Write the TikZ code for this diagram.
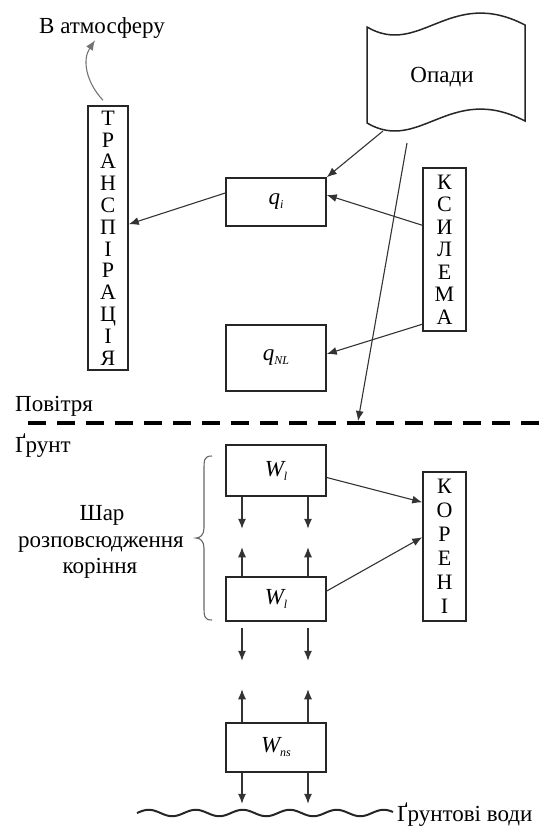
\documentclass[tikz,border=0pt]{standalone}
\usepackage{fontspec}
\setmainfont{Liberation Serif}
\usetikzlibrary{arrows.meta,calc}
\newcommand{\lowsub}[1]{\raisebox{-4pt}{\fontsize{12}{12}\selectfont\itshape #1}}
\begin{document}
\begin{tikzpicture}[x=1pt,y=-1pt,
  font=\fontsize{23}{26}\selectfont,
  box/.style={draw=black!85, line width=1.5pt, minimum width=100pt, inner sep=0pt},
  vbox/.style={draw=black!85, line width=1.5pt, inner sep=0pt, align=center},
  conn/.style={draw=black!80, line width=1.1pt, -{Latex[length=10pt,width=8pt]}},
  lbl/.style={inner sep=0pt}
  ]
\useasboundingbox (0,0) rectangle (540,827);

% ---- Опади (tape shape)
\draw[draw=black!85, line width=1.5pt]
  (367,27) .. controls (420,58) and (450,-14) .. (525,25)
  -- (525,121) .. controls (450,82) and (420,154) .. (367,123) -- cycle;
\node[lbl] (opady) at (442,77) {Опади};
\coordinate (op1) at (383,131);
\coordinate (op2) at (407,143);

% ---- boxes
\node[vbox, minimum width=40pt, minimum height=264pt, font=\fontsize{22}{21.8}\selectfont] (tr) at (108,238)
  {Т\\Р\\А\\Н\\С\\П\\І\\Р\\А\\Ц\\І\\Я};
\node[vbox, minimum width=43pt, minimum height=163pt, font=\fontsize{22}{22.5}\selectfont] (ks) at (444.5,249.5)
  {К\\С\\И\\Л\\Е\\М\\А};
\node[vbox, minimum width=43pt, minimum height=149pt, font=\fontsize{22}{24}\selectfont] (kor) at (444.5,546.5)
  {К\\О\\Р\\Е\\Н\\І};

\node[box, minimum height=48pt] (qi) at (276,202) {\itshape q\lowsub{i}};
\node[box, minimum height=66pt] (qnl) at (276,358) {\itshape q\lowsub{NL}};
\node[box, minimum height=51pt] (w1) at (276,470.5) {\itshape W\lowsub{l}};
\node[box, minimum height=44pt] (w2) at (276,599) {\itshape W\lowsub{l}};
\node[box, minimum height=49pt] (wns) at (276,747.5) {\itshape W\lowsub{ns}};

% ---- texts
\node[lbl, anchor=base] (atm) at (102,33) {В атмосферу};
\node[lbl, anchor=base west] (air) at (15,411) {Повітря};
\node[lbl, anchor=base west] (soil) at (15,452) {Ґрунт};
\node[lbl, anchor=base] (l1) at (102,520) {Шар};
\node[lbl, anchor=base] (l2) at (101,547) {розповсюдження};
\node[lbl, anchor=base] (l3) at (100,573) {коріння};
\node[lbl, anchor=base west] (gw) at (397,821) {Ґрунтові води};

% ---- boundary line air/soil
\coordinate (dl) at (28,423);
\coordinate (dr) at (540,423);
\draw[black, line width=4pt, dash pattern=on 18pt off 11pt] (dl) -- (dr);
\coordinate (hit) at (358,421);

% ---- groundwater wave
\draw[black!85, line width=2pt] plot[domain=0:256, samples=200]
  ({137+\x}, {813 - 3.2*sin(\x*7.66)});

% ---- brace
\draw[black!60, line width=1.1pt]
  (212,456) .. controls (204,456) and (204,460) .. (204,470) -- (204,528)
  .. controls (204,535) and (200,538) .. (196,538)
  .. controls (200,538) and (204,541) .. (204,548) -- (204,606)
  .. controls (204,616) and (204,620) .. (212,620);

% ---- connectors
\draw[conn, draw=black!55] ($(tr.north)+(-5,-5)$) .. controls (86,82) and (82,60) .. ($(atm.south)+(-7,2)$);
\draw[conn] (op1) -- (qi.north east);
\draw[conn] (op2) -- (hit);
\draw[conn] ($(ks.north west)+(0,58)$) -- ($(qi.east)+(0,-7)$);
\draw[conn] ($(ks.north west)+(0,157)$) -- ($(qnl.east)+(0,-4)$);
\draw[conn] ($(qi.west)+(0,-9)$) -- ($(tr.north east)+(0,119)$);
\draw[conn] ($(w1.east)+(0,7)$) -- ($(kor.north west)+(0,31)$);
\draw[conn] ($(w2.east)+(0,-8)$) -- ($(kor.north west)+(0,66)$);

% vertical flows
\foreach \dx/\n in {-34/a, 32/b}{
  \coordinate (d1\n) at ($(w1.south)+(\dx,32)$);
  \coordinate (u1\n) at ($(w2.north)+(\dx,-29)$);
  \coordinate (s2\n) at ($(w2.south)+(\dx,6)$);
  \coordinate (d2\n) at ($(w2.south)+(\dx,39)$);
  \coordinate (u2\n) at ($(wns.north)+(\dx,-33)$);
  \coordinate (d3\n) at ($(wns.south)+(\dx,31)$);
  \draw[conn] ($(w1.south)+(\dx,0)$) -- (d1\n);
  \draw[conn] ($(w2.north)+(\dx,0)$) -- (u1\n);
  \draw[conn] (s2\n) -- (d2\n);
  \draw[conn] ($(wns.north)+(\dx,0)$) -- (u2\n);
  \draw[conn] ($(wns.south)+(\dx,0)$) -- (d3\n);
}
\end{tikzpicture}
\end{document}
